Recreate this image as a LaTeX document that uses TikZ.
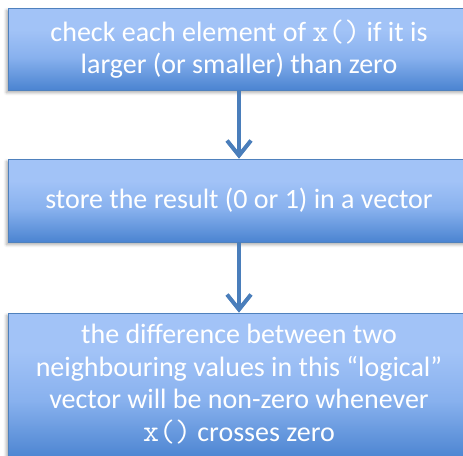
\documentclass[tikz,border=0pt]{standalone}
\usepackage{fontspec}
\setmainfont{Carlito}
\usetikzlibrary{arrows.meta,shadows.blur}
\definecolor{gtop}{HTML}{A2C3F7}
\definecolor{gmid}{HTML}{88B1EE}
\definecolor{gbot}{HTML}{4B84D1}
\definecolor{bordc}{HTML}{4F81BD}
\definecolor{arrc}{HTML}{4A7EBB}
\pgfdeclareverticalshading{boxgrad}{100bp}{color(0bp)=(gbot); color(25bp)=(gbot); color(45bp)=(gmid); color(62bp)=(gtop); color(75bp)=(gtop); color(100bp)=(gtop)}
\newcommand{\codetxt}[1]{{\ttfamily\fontsize{31}{32.5}\selectfont #1}}
\begin{document}
\begin{tikzpicture}[x=1pt,y=-1pt,
  box/.style={draw=bordc, line width=0.6pt, shading=boxgrad, minimum width=462pt,
    inner sep=0pt, text=white, align=center, font=\fontsize{28}{32.5}\selectfont,
    blur shadow={shadow xshift=-1.5pt, shadow yshift=-2.5pt, shadow blur steps=6, shadow blur radius=3pt, shadow opacity=35}},
  arr/.style={draw=arrc, line width=4pt, -{Straight Barb[length=15pt,width=24pt,line width=4pt]}}]
\useasboundingbox (0,0) rectangle (463,455);
\begin{scope}
\clip (0,0) rectangle (463,455);
\node[box, minimum height=82pt] (b1) at (239,49) {check each element of \codetxt{x()} if it is\\larger (or smaller) than zero};
\node[box, minimum height=83pt] (b2) at (239,200.5) {store the result (0 or 1) in a vector};
\node[box, minimum height=146pt] (b3) at (239,386) {};
\node[text=white, align=center, font=\fontsize{28}{32.5}\selectfont, inner sep=0pt] (t3) at (239,384) {the difference between two\\neighbouring values in this “logical”\\vector will be non-zero whenever\\\codetxt{x()} crosses zero};
\draw[arr] (b1.south) -- (b2.north);
\draw[arr] (b2.south) -- (b3.north);
\end{scope}
\end{tikzpicture}
\end{document}
